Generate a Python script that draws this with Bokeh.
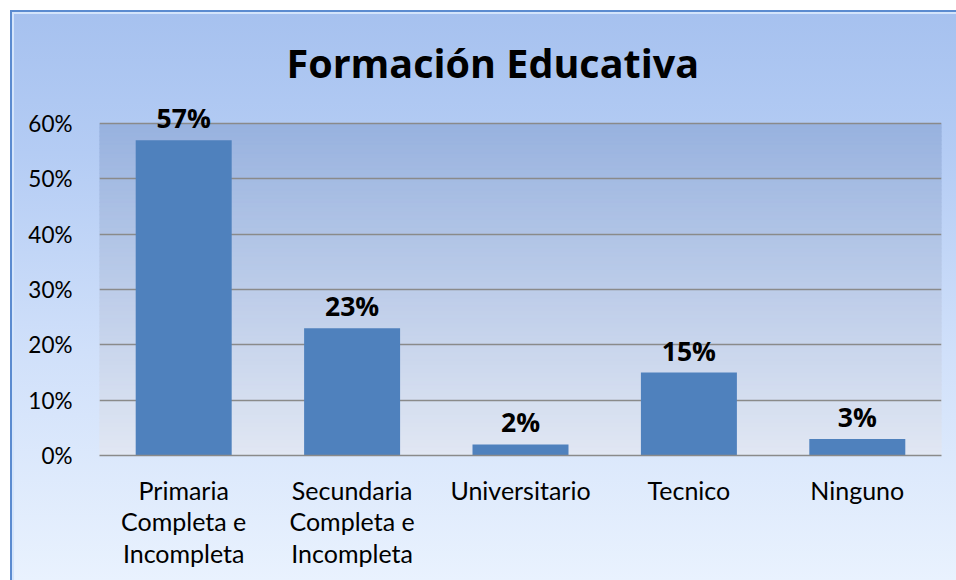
from bokeh.plotting import figure
from bokeh.models import (ColumnDataSource, FactorRange, Range1d, FixedTicker,
                          NumeralTickFormatter, LabelSet)
from bokeh.core.properties import value
from bokeh.embed import file_html
from bokeh.resources import INLINE

# ---- data ----
categories = ["Primaria\nCompleta e\nIncompleta",
              "Secundaria\nCompleta e\nIncompleta",
              "Universitario", "Tecnico", "Ninguno"]
values = [0.57, 0.23, 0.02, 0.15, 0.03]
value_labels = ["57%", "23%", "2%", "15%", "3%"]
y_ticks = [0, 0.1, 0.2, 0.3, 0.4, 0.5, 0.6]
title_text = "Formación Educativa"

FONT = "Lato"
BOLD_FONT = "Open Sans"

p = figure(width=956, height=580, output_backend="svg", toolbar_location=None,
           x_range=FactorRange(factors=categories),
           y_range=Range1d(0, 0.66),
           min_border_left=99, min_border_right=15,
           min_border_top=90, min_border_bottom=125)

p.border_fill_color = None
p.background_fill_color = None
p.outline_line_color = None
p.styles = {"background": (
    "linear-gradient(#5b8bd0,#5b8bd0) no-repeat 10px 10px / 2px 100%, "
    "linear-gradient(#5b8bd0,#5b8bd0) no-repeat 10px 10px / 100% 2px, "
    "linear-gradient(#d3e4fb,#d3e4fb) no-repeat 12px 12px / 2px 100%, "
    "linear-gradient(#d3e4fb,#d3e4fb) no-repeat 12px 12px / 100% 2px, "
    "linear-gradient(180deg, #a6c1ef 0%, #b4ccf4 25%, #d0e0fa 60%, #e9f2fe 100%) "
    "no-repeat 10px 10px / calc(100% - 10px) calc(100% - 10px), #ffffff")}

# plot-area gradient (styling bands)
def mix(c1, c2, t):
    a = [int(c1[i:i + 2], 16) for i in (1, 3, 5)]
    b = [int(c2[i:i + 2], 16) for i in (1, 3, 5)]
    return "#%02x%02x%02x" % tuple(round(a[k] + (b[k] - a[k]) * t) for k in range(3))

n = 80
top_v = y_ticks[-1]
bottoms = [top_v * i / n for i in range(n)]
tops = [top_v * (i + 1) / n for i in range(n)]
cols = [mix("#e1e7f3", "#98b2df", (i + 0.5) / n) for i in range(n)]
p.quad(left=[0] * n, right=[len(categories)] * n, bottom=bottoms, top=tops,
       fill_color=cols, line_color=cols, line_width=1, level="image")

src = ColumnDataSource(dict(cat=categories, val=values, lab=value_labels))
p.vbar(x="cat", top="val", width=0.57, source=src,
       fill_color="#4f81bd", line_color=None)

# grid
p.xgrid.grid_line_color = None
p.ygrid.ticker = FixedTicker(ticks=y_ticks)
p.ygrid.grid_line_color = "#8a8a8a"
p.ygrid.grid_line_width = 1.6

# axes
p.yaxis.ticker = FixedTicker(ticks=y_ticks)
p.yaxis.formatter = NumeralTickFormatter(format="0%")
p.yaxis.axis_line_color = None
p.yaxis.major_tick_line_color = None
p.yaxis.minor_tick_line_color = None
p.yaxis.major_label_standoff = 21
p.yaxis.major_label_text_font = FONT
p.yaxis.major_label_text_font_size = "22.5px"
p.yaxis.major_label_text_color = "#000000"

p.xaxis.axis_line_color = "#8a8a8a"
p.xaxis.axis_line_width = 1.6
p.xaxis.major_tick_line_color = None
p.xaxis.minor_tick_line_color = None
p.xaxis.major_label_standoff = 13
p.xaxis.major_label_text_font = FONT
p.xaxis.major_label_text_font_size = "25px"
p.xaxis.major_label_text_color = "#000000"
p.xaxis.major_label_text_line_height = 1.05

labels = LabelSet(x="cat", y="val", text="lab", source=src, y_offset=12,
                  text_align="center", text_baseline="alphabetic",
                  text_font=value(BOLD_FONT), text_font_style="bold",
                  text_font_size="26.5px", text_color="#000000")
p.add_layout(labels)

p.title.text = title_text
p.title.align = "left"
p.title.offset = 187
p.title.standoff = 2
p.title.text_font = BOLD_FONT
p.title.text_font_style = "bold"
p.title.text_font_size = "39.5px"
p.title.text_color = "#000000"

open("out.html", "w").write(file_html(p, INLINE))
